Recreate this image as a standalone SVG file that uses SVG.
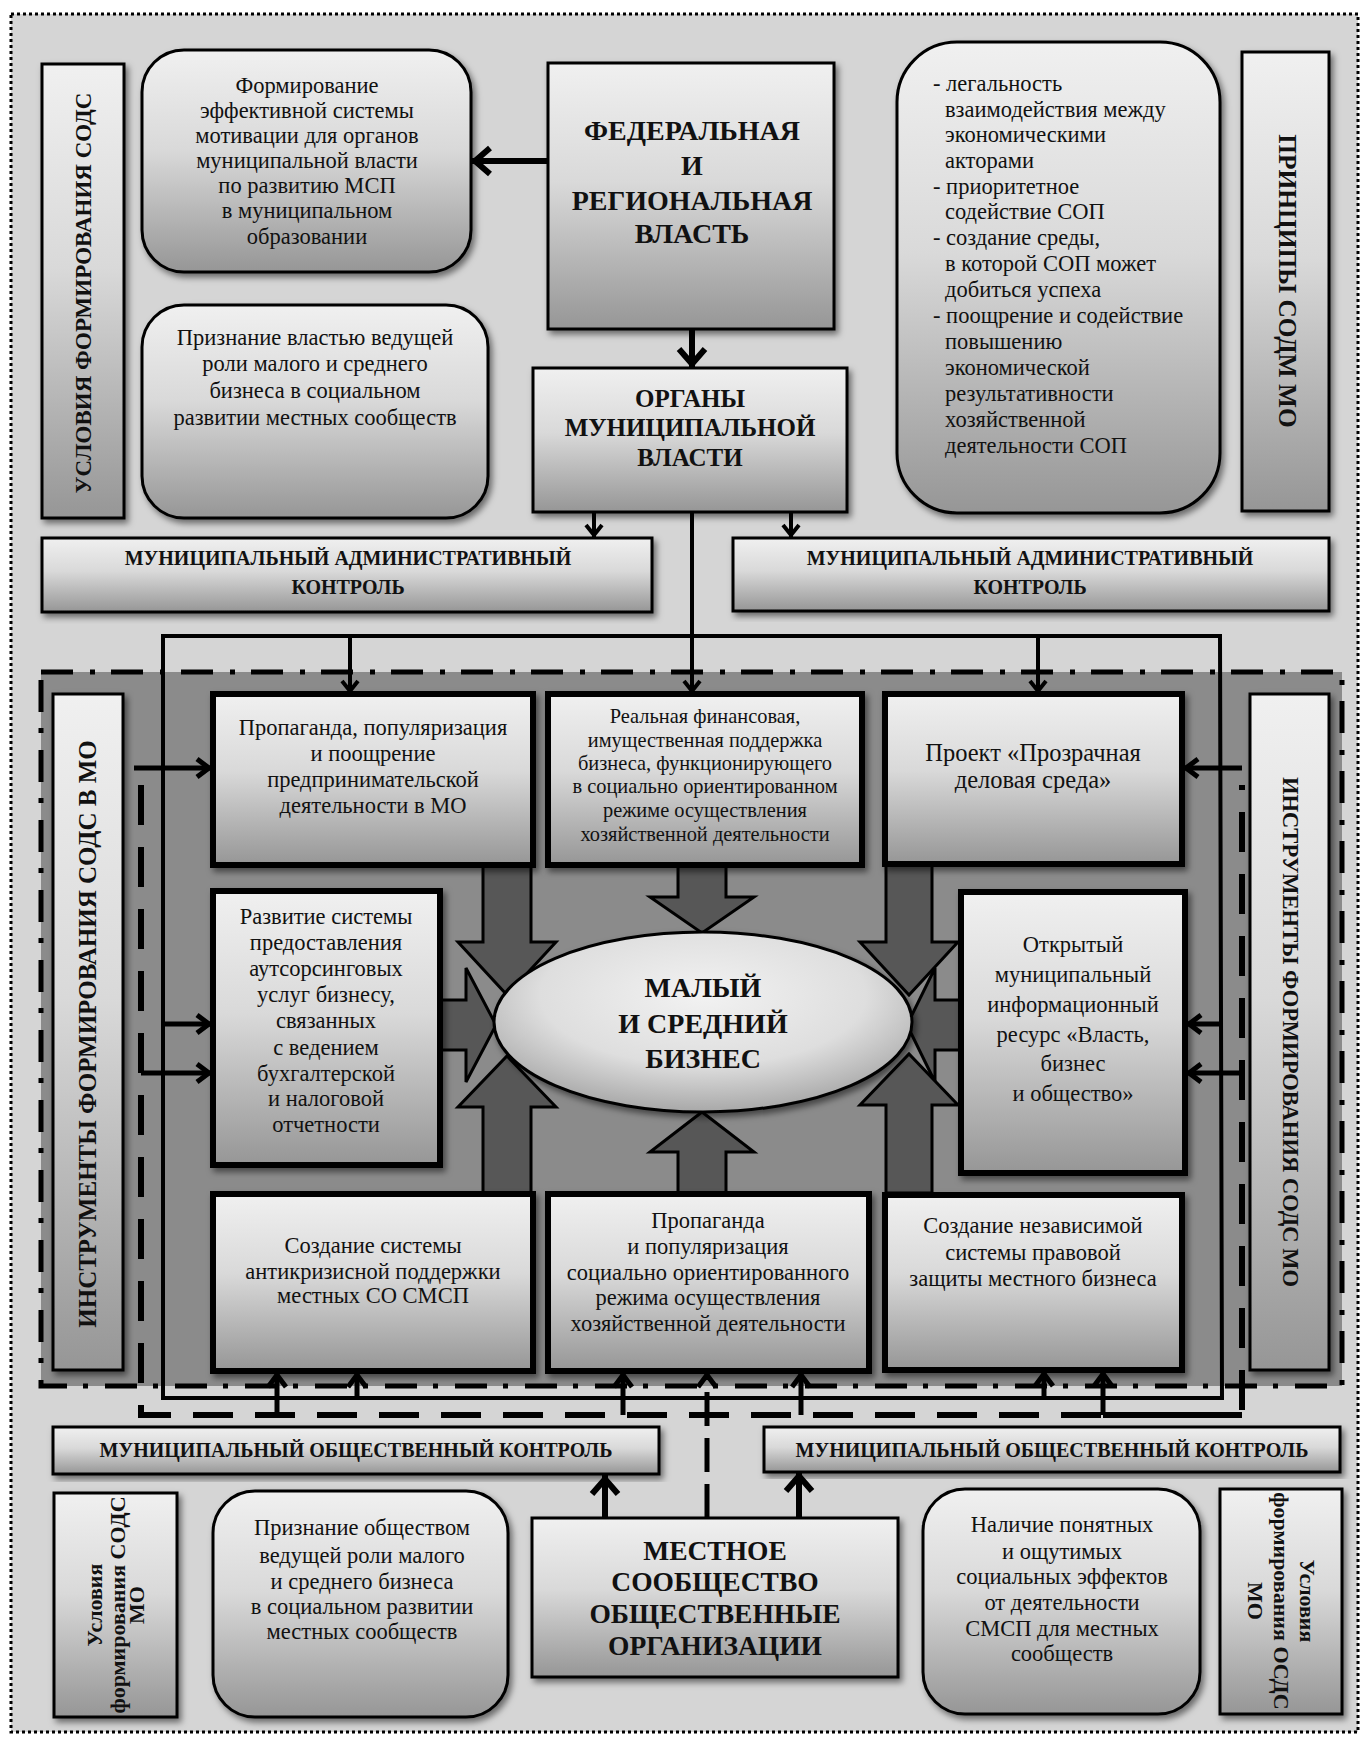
<svg xmlns="http://www.w3.org/2000/svg" width="1368" height="1738" viewBox="0 0 1368 1738">
<defs>
<linearGradient id="g" x1="0" y1="0" x2="0" y2="1">
<stop offset="0" stop-color="#f0f0f0"/><stop offset="0.45" stop-color="#d9d9d9"/><stop offset="1" stop-color="#969696"/>
</linearGradient>
<radialGradient id="ge" cx="0.5" cy="0.35" r="0.65">
<stop offset="0" stop-color="#f2f2f2"/><stop offset="0.6" stop-color="#dedede"/><stop offset="1" stop-color="#a8a8a8"/>
</radialGradient>
<filter id="sh" x="-10%" y="-10%" width="125%" height="125%">
<feDropShadow dx="3" dy="4" stdDeviation="3" flood-color="#000" flood-opacity="0.5"/>
</filter>
<marker id="ab" markerUnits="userSpaceOnUse" markerWidth="28" markerHeight="32" viewBox="0 0 28 32" refX="25" refY="16" orient="auto" overflow="visible">
<path d="M6,3 L21,16 L6,29" fill="none" stroke="#000" stroke-width="6"/>
</marker>
<marker id="am" markerUnits="userSpaceOnUse" markerWidth="22" markerHeight="22" viewBox="0 0 22 22" refX="20" refY="11" orient="auto" overflow="visible">
<path d="M4,2 L16,11 L4,20" fill="none" stroke="#000" stroke-width="5"/>
</marker>
<marker id="as" markerUnits="userSpaceOnUse" markerWidth="18" markerHeight="20" viewBox="0 0 18 20" refX="17" refY="10" orient="auto" overflow="visible">
<path d="M4,2 L14,10 L4,18" fill="none" stroke="#000" stroke-width="4"/>
</marker>
</defs>
<style>
.box{fill:url(#g);stroke:#000;stroke-width:3;filter:url(#sh)}
.tb{fill:url(#g);stroke:#000;stroke-width:6;filter:url(#sh)}
.t{font-family:"Liberation Serif","Times New Roman",serif;font-size:22.5px;text-anchor:middle;fill:#111}
.l{text-anchor:start}
.b{font-weight:bold}
.ln{stroke:#000;fill:none}
.fat{fill:#575757;stroke:#000;stroke-width:3}
</style>
<rect x="0" y="0" width="1368" height="1738" fill="#ffffff"/>
<rect id="frame" x="11" y="14" width="1347" height="1718" fill="#d5d5d5" stroke="#000" stroke-width="3" stroke-dasharray="3,3"/>

<rect id="zone" x="41" y="672" width="1301" height="714" fill="#8b8b8b" stroke="#000" stroke-width="5" stroke-dasharray="32,17,5,16"/>

<g id="fat-arrows">
<polygon class="fat" points="440,1000 466,1000 466,968 496,1025 466,1082 466,1050 440,1050"/>
<polygon class="fat" points="961,1000 935,1000 935,968 907,1025 935,1082 935,1050 961,1050"/>
<polygon class="fat" points="483,865 531,865 531,942 556,942 507,995 458,942 483,942"/>
<polygon class="fat" points="483,1193 531,1193 531,1107 556,1107 507,1056 458,1107 483,1107"/>
<polygon class="fat" points="886,865 932,865 932,942 958,942 909,995 860,942 886,942"/>
<polygon class="fat" points="886,1193 932,1193 932,1105 958,1105 909,1054 860,1105 886,1105"/>
<polygon class="fat" points="678,865 726,865 726,897 754,897 702,933 650,897 678,897"/>
<polygon class="fat" points="678,1193 726,1193 726,1152 754,1152 702,1112 650,1152 678,1152"/>
</g>

<g id="connectors">
<line class="ln" x1="548" y1="161" x2="471" y2="161" stroke-width="6" marker-end="url(#ab)"/>
<line class="ln" x1="692" y1="329" x2="692" y2="368" stroke-width="6" marker-end="url(#ab)"/>
<line class="ln" x1="594" y1="512" x2="594" y2="538" stroke-width="4" marker-end="url(#as)"/>
<line class="ln" x1="791" y1="512" x2="791" y2="538" stroke-width="4" marker-end="url(#as)"/>
<line class="ln" x1="692" y1="512" x2="692" y2="694" stroke-width="4" marker-end="url(#as)"/>
<path class="ln" d="M163,1398 L163,636 L1220,636 L1222,1398 Z" stroke-width="4"/>
<line class="ln" x1="350" y1="636" x2="350" y2="694" stroke-width="4" marker-end="url(#as)"/>
<line class="ln" x1="1038" y1="636" x2="1038" y2="694" stroke-width="4" marker-end="url(#as)"/>
<path class="ln" d="M141,785 L141,1415 L1242,1415 L1242,785" stroke-width="6" stroke-dasharray="40,22"/>
<line class="ln" x1="134" y1="768" x2="213" y2="768" stroke-width="5" marker-end="url(#am)"/>
<line class="ln" x1="163" y1="1024" x2="213" y2="1024" stroke-width="5" marker-end="url(#am)"/>
<line class="ln" x1="141" y1="1073" x2="213" y2="1073" stroke-width="5" marker-end="url(#am)"/>
<line class="ln" x1="1242" y1="768" x2="1182" y2="768" stroke-width="5" marker-end="url(#am)"/>
<line class="ln" x1="1222" y1="1024" x2="1185" y2="1024" stroke-width="5" marker-end="url(#am)"/>
<line class="ln" x1="1242" y1="1073" x2="1185" y2="1073" stroke-width="5" marker-end="url(#am)"/>
<line class="ln" x1="277" y1="1415" x2="277" y2="1371" stroke-width="5" marker-end="url(#am)"/>
<line class="ln" x1="357" y1="1398" x2="357" y2="1371" stroke-width="5" marker-end="url(#am)"/>
<line class="ln" x1="623" y1="1415" x2="623" y2="1371" stroke-width="5" marker-end="url(#am)"/>
<line class="ln" x1="801" y1="1415" x2="801" y2="1371" stroke-width="5" marker-end="url(#am)"/>
<line class="ln" x1="1044" y1="1398" x2="1044" y2="1370" stroke-width="5" marker-end="url(#am)"/>
<line class="ln" x1="1103" y1="1415" x2="1103" y2="1370" stroke-width="5" marker-end="url(#am)"/>
<line class="ln" x1="1103" y1="1415" x2="1242" y2="1415" stroke-width="6"/>
<line class="ln" x1="707" y1="1518" x2="707" y2="1371" stroke-width="5" stroke-dasharray="34,12" marker-end="url(#am)"/>
<line class="ln" x1="605" y1="1518" x2="605" y2="1475" stroke-width="6" marker-end="url(#ab)"/>
<line class="ln" x1="799" y1="1518" x2="799" y2="1472" stroke-width="6" marker-end="url(#ab)"/>
</g>

<g id="n-uslovia-sods">
<rect class="box" x="42" y="64" width="82" height="454"/>
<text class="t b" style="font-size:23px" transform="translate(83,293) rotate(-90)" y="7.6">УСЛОВИЯ ФОРМИРОВАНИЯ СОДС</text>
</g>

<g id="n-motivation">
<rect class="box" x="142" y="50" width="329" height="222" rx="42"/>
<text class="t"><tspan x="307" y="93">Формирование</tspan><tspan x="307" y="118">эффективной системы</tspan><tspan x="307" y="143">мотивации для органов</tspan><tspan x="307" y="168">муниципальной власти</tspan><tspan x="307" y="193">по  развитию МСП</tspan><tspan x="307" y="218">в  муниципальном</tspan><tspan x="307" y="244">образовании</tspan></text>
</g>

<g id="n-priznanie-vlast">
<rect class="box" x="142" y="305" width="346" height="213" rx="42"/>
<text class="t"><tspan x="315" y="345">Признание властью ведущей</tspan><tspan x="315" y="371">роли малого и среднего</tspan><tspan x="315" y="398">бизнеса в социальном</tspan><tspan x="315" y="425">развитии местных сообществ</tspan></text>
</g>

<g id="n-federal">
<rect class="box" x="548" y="63" width="286" height="266"/>
<text class="t b" style="font-size:28px"><tspan x="692" y="139.5">ФЕДЕРАЛЬНАЯ</tspan><tspan x="692" y="174.5">И</tspan><tspan x="692" y="209.5">РЕГИОНАЛЬНАЯ</tspan><tspan x="692" y="242.5">ВЛАСТЬ</tspan></text>
</g>

<g id="n-organs">
<rect class="box" x="533" y="368" width="314" height="144"/>
<text class="t b" style="font-size:25px"><tspan x="690" y="406.5">ОРГАНЫ</tspan><tspan x="690" y="435.5">МУНИЦИПАЛЬНОЙ</tspan><tspan x="690" y="465.5">ВЛАСТИ</tspan></text>
</g>

<g id="n-principles-list">
<rect class="box" x="897" y="42" width="323" height="471" rx="60"/>
<text class="t l"><tspan x="933" y="91">- легальность</tspan><tspan x="945" y="117">взаимодействия между</tspan><tspan x="945" y="142">экономическими</tspan><tspan x="945" y="168">акторами</tspan><tspan x="933" y="194">- приоритетное</tspan><tspan x="945" y="219">содействие СОП</tspan><tspan x="933" y="245">- создание среды,</tspan><tspan x="945" y="271">в которой СОП может</tspan><tspan x="945" y="297">добиться успеха</tspan><tspan x="933" y="323">- поощрение и содействие</tspan><tspan x="945" y="349">повышению</tspan><tspan x="945" y="375">экономической</tspan><tspan x="945" y="401">результативности</tspan><tspan x="945" y="427">хозяйственной</tspan><tspan x="945" y="453">деятельности СОП</tspan></text>
</g>

<g id="n-principles">
<rect class="box" x="1242" y="52" width="87" height="459"/>
<text class="t b" style="font-size:25.4px" transform="translate(1287,281) rotate(90)" y="8.4">ПРИНЦИПЫ СОДМ МО</text>
</g>

<g id="n-admin-left">
<rect class="box" x="42" y="538" width="610" height="74"/>
<text class="t b" style="font-size:20px"><tspan x="348" y="565">МУНИЦИПАЛЬНЫЙ АДМИНИСТРАТИВНЫЙ</tspan><tspan x="348" y="594">КОНТРОЛЬ</tspan></text>
</g>

<g id="n-admin-right">
<rect class="box" x="733" y="538" width="596" height="73"/>
<text class="t b" style="font-size:20px"><tspan x="1030" y="565">МУНИЦИПАЛЬНЫЙ АДМИНИСТРАТИВНЫЙ</tspan><tspan x="1030" y="594">КОНТРОЛЬ</tspan></text>
</g>

<g id="n-instr-left">
<rect class="box" x="53" y="694" width="70" height="676"/>
<text class="t b" style="font-size:25px" transform="translate(88,1034) rotate(-90)" y="8.3">ИНСТРУМЕНТЫ ФОРМИРОВАНИЯ СОДС В МО</text>
</g>

<g id="n-instr-right">
<rect class="box" x="1250" y="694" width="79" height="676"/>
<text class="t b" style="font-size:22.6px" transform="translate(1290,1032) rotate(90)" y="7.5">ИНСТРУМЕНТЫ ФОРМИРОВАНИЯ СОДС МО</text>
</g>

<g id="n-propaganda">
<rect class="tb" x="213" y="694" width="320" height="171"/>
<text class="t"><tspan x="373" y="735">Пропаганда, популяризация</tspan><tspan x="373" y="761">и поощрение</tspan><tspan x="373" y="787">предпринимательской</tspan><tspan x="373" y="813">деятельности в МО</tspan></text>
</g>

<g id="n-finance">
<rect class="tb" x="548" y="694" width="314" height="171"/>
<text class="t" style="font-size:20.4px"><tspan x="705" y="723">Реальная финансовая,</tspan><tspan x="705" y="747">имущественная  поддержка</tspan><tspan x="705" y="770">бизнеса, функционирующего</tspan><tspan x="705" y="793">в социально  ориентированном</tspan><tspan x="705" y="817">режиме осуществления</tspan><tspan x="705" y="841">хозяйственной деятельности</tspan></text>
</g>

<g id="n-project">
<rect class="tb" x="885" y="694" width="297" height="170"/>
<text class="t" style="font-size:24.5px"><tspan x="1033" y="761">Проект «Прозрачная</tspan><tspan x="1033" y="788">деловая среда»</tspan></text>
</g>

<g id="n-outsourcing">
<rect class="tb" x="213" y="891" width="227" height="274"/>
<text class="t"><tspan x="326" y="924">Развитие системы</tspan><tspan x="326" y="950">предоставления</tspan><tspan x="326" y="976">аутсорсинговых</tspan><tspan x="326" y="1002">услуг бизнесу,</tspan><tspan x="326" y="1028">связанных</tspan><tspan x="326" y="1055">с ведением</tspan><tspan x="326" y="1081">бухгалтерской</tspan><tspan x="326" y="1106">и налоговой</tspan><tspan x="326" y="1132">отчетности</tspan></text>
</g>

<g id="n-info">
<rect class="tb" x="961" y="892" width="224" height="281"/>
<text class="t"><tspan x="1073" y="952">Открытый</tspan><tspan x="1073" y="982">муниципальный</tspan><tspan x="1073" y="1012">информационный</tspan><tspan x="1073" y="1042">ресурс «Власть,</tspan><tspan x="1073" y="1071">бизнес</tspan><tspan x="1073" y="1101">и общество»</tspan></text>
</g>

<g id="n-msb">
<ellipse cx="703" cy="1022" rx="209" ry="90" fill="url(#ge)" stroke="#000" stroke-width="3" filter="url(#sh)"/>
<text class="t b" style="font-size:28px"><tspan x="703" y="996.5">МАЛЫЙ</tspan><tspan x="703" y="1032.5">И СРЕДНИЙ</tspan><tspan x="703" y="1067.5">БИЗНЕС</tspan></text>
</g>

<g id="n-anticrisis">
<rect class="tb" x="213" y="1194" width="320" height="177"/>
<text class="t"><tspan x="373" y="1253">Создание системы</tspan><tspan x="373" y="1279">антикризисной поддержки</tspan><tspan x="373" y="1303">местных СО СМСП</tspan></text>
</g>

<g id="n-propaganda2">
<rect class="tb" x="548" y="1194" width="321" height="177"/>
<text class="t"><tspan x="708" y="1228">Пропаганда</tspan><tspan x="708" y="1254">и популяризация</tspan><tspan x="708" y="1280">социально ориентированного</tspan><tspan x="708" y="1305">режима осуществления</tspan><tspan x="708" y="1331">хозяйственной деятельности</tspan></text>
</g>

<g id="n-legal">
<rect class="tb" x="885" y="1195" width="297" height="175"/>
<text class="t"><tspan x="1033" y="1233">Создание независимой</tspan><tspan x="1033" y="1260">системы правовой</tspan><tspan x="1033" y="1286">защиты местного бизнеса</tspan></text>
</g>

<g id="n-public-left">
<rect class="box" x="53" y="1427" width="606" height="47"/>
<text class="t b" style="font-size:20px" x="356" y="1457">МУНИЦИПАЛЬНЫЙ ОБЩЕСТВЕННЫЙ КОНТРОЛЬ</text>
</g>

<g id="n-public-right">
<rect class="box" x="764" y="1427" width="576" height="45"/>
<text class="t b" style="font-size:20px" x="1052" y="1457">МУНИЦИПАЛЬНЫЙ ОБЩЕСТВЕННЫЙ КОНТРОЛЬ</text>
</g>

<g id="n-usl-left">
<rect class="box" x="54" y="1493" width="123" height="224"/>
<text class="t b" style="font-size:22px" transform="translate(116,1605) rotate(-90)"><tspan x="0" y="-14">Условия</tspan><tspan x="0" y="9">формирования СОДС</tspan><tspan x="0" y="28">МО</tspan></text>
</g>

<g id="n-priznanie-obsh">
<rect class="box" x="213" y="1491" width="295" height="226" rx="42"/>
<text class="t"><tspan x="362" y="1535">Признание обществом</tspan><tspan x="362" y="1563">ведущей роли малого</tspan><tspan x="362" y="1589">и среднего бизнеса</tspan><tspan x="362" y="1614">в социальном развитии</tspan><tspan x="362" y="1639">местных сообществ</tspan></text>
</g>

<g id="n-community">
<rect class="box" x="532" y="1518" width="366" height="159"/>
<text class="t b" style="font-size:27.5px"><tspan x="715" y="1560">МЕСТНОЕ</tspan><tspan x="715" y="1591">СООБЩЕСТВО</tspan><tspan x="715" y="1623">ОБЩЕСТВЕННЫЕ</tspan><tspan x="715" y="1655">ОРГАНИЗАЦИИ</tspan></text>
</g>

<g id="n-effects">
<rect class="box" x="923" y="1489" width="277" height="225" rx="42"/>
<text class="t"><tspan x="1062" y="1532">Наличие понятных</tspan><tspan x="1062" y="1559">и ощутимых</tspan><tspan x="1062" y="1584">социальных эффектов</tspan><tspan x="1062" y="1610">от деятельности</tspan><tspan x="1062" y="1636">СМСП для местных</tspan><tspan x="1062" y="1661">сообществ</tspan></text>
</g>

<g id="n-usl-right">
<rect class="box" x="1220" y="1489" width="122" height="225"/>
<text class="t b" style="font-size:22px" transform="translate(1281,1601) rotate(90)"><tspan x="0" y="-19">Условия</tspan><tspan x="0" y="7">формирования ОСДС</tspan><tspan x="0" y="33">МО</tspan></text>
</g>
</svg>
